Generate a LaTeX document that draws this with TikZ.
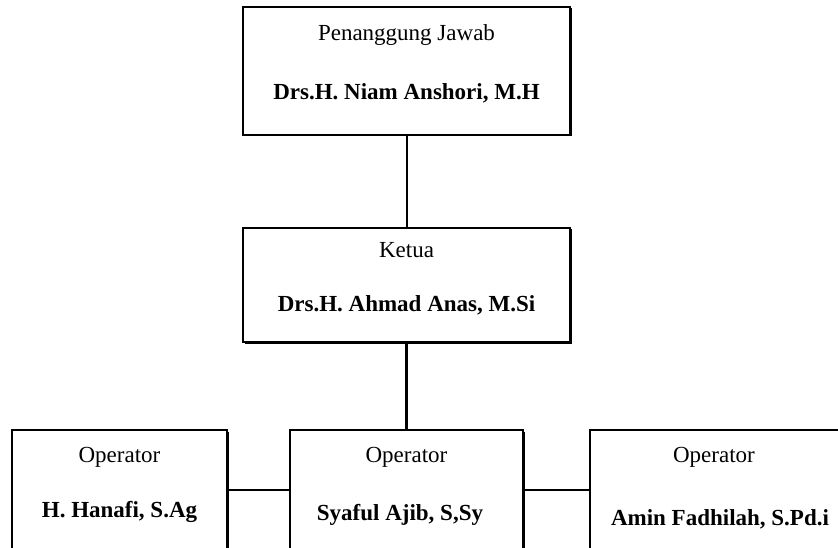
\documentclass[tikz,border=0pt]{standalone}
\usepackage{fontspec}
\setmainfont{Liberation Serif}
\usetikzlibrary{shadows}

\begin{document}
\begin{tikzpicture}[x=1pt, y=-1pt,
	box/.style={rectangle, draw, line width=2pt, fill=white,
		drop shadow={shadow xshift=1.5pt, shadow yshift=-1.5pt, fill=black, opacity=1}},
	role/.style={font=\fontsize{23}{27}\selectfont},
	person/.style={font=\fontsize{23}{27}\selectfont\bfseries},
	link/.style={line width=2pt}]
				\clip (0,0) rectangle (838,548);
				
				\node[box, minimum width=327pt, minimum height=128pt] (top) at (406.5,71) {};
				\node[box, minimum width=327pt, minimum height=114pt] (ketua) at (406.5,285) {};
				\node[box, minimum width=215pt, minimum height=120pt] (opl) at (119.5,490) {};
				\node[box, minimum width=233pt, minimum height=120pt] (opm) at (406.5,490) {};
				\node[box, minimum width=252pt, minimum height=120pt] (opr) at (716,490) {};
				
				\node[role] (tjrole) at (406.5,35) {Penanggung Jawab};
				\node[person] (tjname) at (406.5,93) {Drs.H. Niam Anshori, M.H};
				\node[role] (ketuarole) at (406.5,250) {Ketua};
				\node[person] (ketuaname) at (406.5,305) {Drs.H. Ahmad Anas, M.Si};
				\node[role] (oplrole) at (119.5,457) {Operator};
				\node[person] (oplname) at (119.5,512) {H. Hanafi, S.Ag};
				\node[role] (opmrole) at (406.5,457) {Operator};
				\node[person] (opmname) at (400,515) {Syaful Ajib, S,Sy};
				\node[role] (oprrole) at (714,457) {Operator};
				\node[person] (oprname) at (720,519) {Amin Fadhilah, S.Pd.i};
				
				\draw[link] (top) -- (ketua);
				\draw[link, line width=3pt] (ketua) -- (opm);
				\draw[link] (opl) -- (opm);
				\draw[link] (opm) -- (opr);
			\end{tikzpicture}
\end{document}
